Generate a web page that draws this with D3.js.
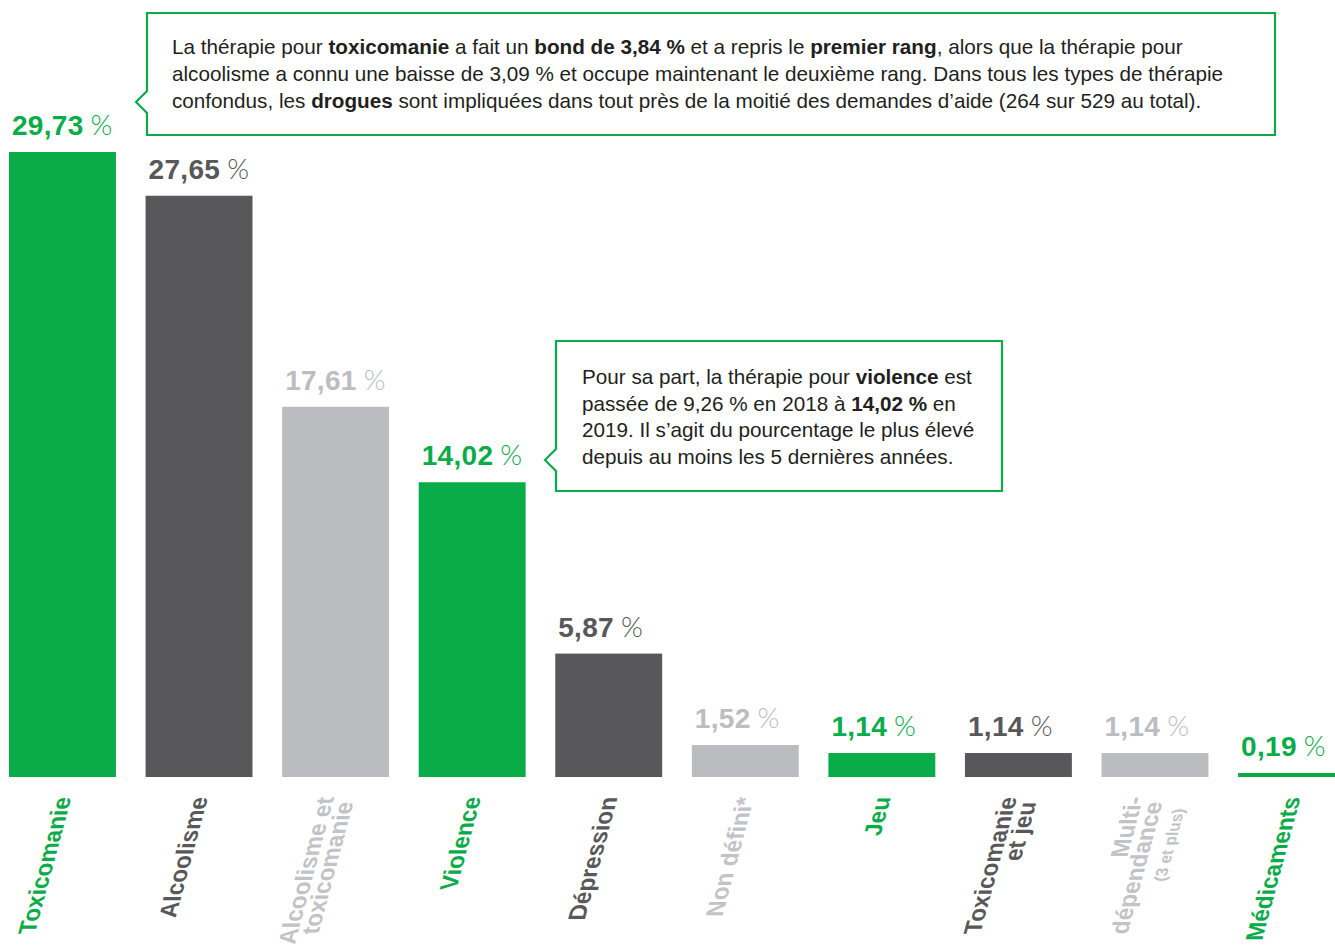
<!DOCTYPE html>
<html lang="fr">
<head>
<meta charset="utf-8">
<script src="https://cdn.jsdelivr.net/npm/d3@7"></script>
<style>
  html, body { margin: 0; padding: 0; background: #fff; }
  svg { display: block; }
  text { font-family: "Liberation Sans", Arial, Helvetica, sans-serif; }
</style>
</head>
<body>
<svg id="chart" width="1335" height="948"></svg>
<script>
// Types de thérapie, 2019 (part des demandes d'aide, en %)
const categories = ["Toxicomanie", "Alcoolisme", "Alcoolisme et toxicomanie", "Violence", "Dépression",
  "Non défini*", "Jeu", "Toxicomanie et jeu", "Multi-dépendance (3 et plus)", "Médicaments"];
const values = [29.73, 27.65, 17.61, 14.02, 5.87, 1.52, 1.14, 1.14, 1.14, 0.19];
const tones = ["green", "dark", "light", "green", "dark", "light", "green", "dark", "light", "green"];
const labelLines = [
  ["Toxicomanie"], ["Alcoolisme"], ["Alcoolisme et", "toxicomanie"], ["Violence"], ["Dépression"],
  ["Non défini*"], ["Jeu"], ["Toxicomanie", "et jeu"], ["Multi-", "dépendance", "(3 et plus)"], ["Médicaments"]
];

const note1 = [
  [["La thérapie pour ", 0], ["toxicomanie", 1], [" a fait un ", 0], ["bond de 3,84 %", 1], [" et a repris le ", 0], ["premier rang", 1], [", alors que la thérapie pour", 0]],
  [["alcoolisme a connu une baisse de 3,09 % et occupe maintenant le deuxième rang. Dans tous les types de thérapie", 0]],
  [["confondus, les ", 0], ["drogues", 1], [" sont impliquées dans tout près de la moitié des demandes d’aide (264 sur 529 au total).", 0]]
];
const note2 = [
  [["Pour sa part, la thérapie pour ", 0], ["violence", 1], [" est", 0]],
  [["passée de 9,26 % en 2018 à ", 0], ["14,02 %", 1], [" en", 0]],
  [["2019. Il s’agit du pourcentage le plus élevé", 0]],
  [["depuis au moins les 5 dernières années.", 0]]
];

const barColor = { green: "#0aac4a", dark: "#58585a", light: "#bbbcc0" };
const valueColor = { green: "#0aac4a", dark: "#58585a", light: "#bcbdc1" };
const catColor = { green: "#0aac4a", dark: "#58585a", light: "#c2c3c7" };

const svg = d3.select("#chart");
const baseY = 777;

const x = d3.scaleBand().domain(categories).range([9, 1345]).paddingInner(0.217).paddingOuter(0);
const y = d3.scaleLinear().domain([0, 29.73]).range([baseY, 152]);

const data = categories.map((c, i) => ({ cat: c, v: values[i], tone: tones[i], lines: labelLines[i] }));

// Barres
svg.append("g").selectAll("rect").data(data).join("rect")
  .attr("x", d => x(d.cat))
  .attr("y", d => y(d.v))
  .attr("width", x.bandwidth())
  .attr("height", d => baseY - y(d.v))
  .attr("fill", d => barColor[d.tone]);

// Valeurs au-dessus des barres
const fmt = v => d3.format(".2f")(v).replace(".", ",");
const vl = svg.append("g").selectAll("text").data(data).join("text")
  .attr("x", d => x(d.cat) + 3)
  .attr("y", d => y(d.v) - 17)
  .attr("fill", d => valueColor[d.tone])
  .style("font-size", "28px");
vl.append("tspan").style("font-weight", "700").style("letter-spacing", "0.3px").text(d => fmt(d.v));
vl.append("tspan").attr("dx", 7)
  .style("font-family", "Lato, Roboto, sans-serif").style("font-weight", "300")
  .text("%");

// Étiquettes de catégories (obliques)
const lh = 20;
const cg = svg.append("g").selectAll("g").data(data).join("g")
  .attr("transform", d => {
    const cx = x(d.cat) + x.bandwidth() / 2 + 9 - (d.lines.length - 1) * lh * 1.035 / 2;
    return `translate(${cx},797) rotate(-75) skewX(15)`;
  });
cg.each(function (d) {
  const g = d3.select(this);
  d.lines.forEach((ln, j) => {
    const small = ln.startsWith("(");
    g.append("text")
      .attr("x", -j * 5 - (small ? 2 : 0))
      .attr("y", j * lh + (small ? 3 : 0))
      .attr("text-anchor", "end")
      .attr("fill", catColor[d.tone])
      .style("font-weight", "700")
      .style("font-size", small ? "16px" : "23.5px")
      .text(ln);
  });
});

// Encadrés de commentaire
function callout(x0, y0, x1, y1, tipY, tipX, half) {
  const p = d3.path();
  p.moveTo(x0, y0);
  p.lineTo(x1, y0);
  p.lineTo(x1, y1);
  p.lineTo(x0, y1);
  p.lineTo(x0, tipY + half);
  p.lineTo(tipX, tipY);
  p.lineTo(x0, tipY - half);
  p.closePath();
  svg.append("path").attr("d", p.toString())
    .attr("fill", "#fff").attr("stroke", "#0aac4a").attr("stroke-width", 2.2);
}
function noteText(lines, tx, ty, lineH) {
  const t = svg.append("text").attr("x", tx).attr("y", ty)
    .attr("fill", "#231f20").style("font-size", "20.7px");
  lines.forEach((segs, i) => {
    segs.forEach((s, k) => {
      const ts = t.append("tspan").text(s[0]).style("font-weight", s[1] ? "700" : "400");
      if (k === 0) ts.attr("x", tx).attr("y", ty + i * lineH);
    });
  });
}

callout(147, 13, 1275, 135, 102, 136, 11);
noteText(note1, 172, 54, 27);

callout(556, 341, 1002, 491, 460, 545, 11);
noteText(note2, 582, 384, 26.7);
</script>
</body>
</html>
